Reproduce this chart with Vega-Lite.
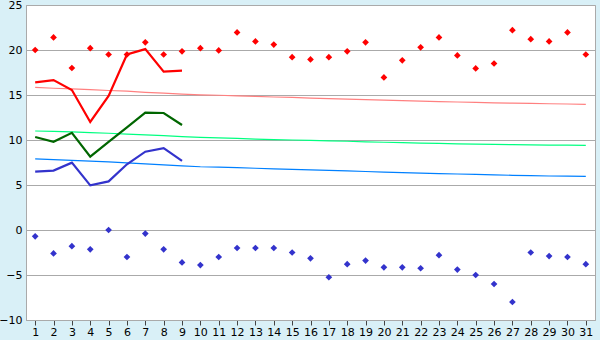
{
  "$schema": "https://vega.github.io/schema/vega-lite/v6.json",
  "autosize": "none",
  "width": 569,
  "height": 315,
  "padding": {"left": 26, "top": 5, "right": 5, "bottom": 20},
  "background": "#d9f0f7",
  "config": {
    "view": {"stroke": "#aaaaaa", "strokeWidth": 1, "fill": "white"},
    "axis": {"labelFont": "DejaVu Sans", "labelFontSize": 11, "labelColor": "#000000", "domainColor": "#aaaaaa", "tickColor": "#444444", "gridColor": "#aaaaaa", "gridOpacity": 1}
  },
  "data": {"values": [
    {"day": 1, "max": 20.0, "min": -0.7, "tmax": 16.4, "tmean": 10.33, "tmin": 6.48, "nmax": 15.85, "nmean": 11.0, "nmin": 7.9},
    {"day": 2, "max": 21.4, "min": -2.6, "tmax": 16.65, "tmean": 9.8, "tmin": 6.6, "nmax": 15.75, "nmean": 10.95, "nmin": 7.82},
    {"day": 3, "max": 18.0, "min": -1.8, "tmax": 15.55, "tmean": 10.8, "tmin": 7.48, "nmax": 15.68, "nmean": 10.9, "nmin": 7.74},
    {"day": 4, "max": 20.2, "min": -2.15, "tmax": 12.0, "tmean": 8.15, "tmin": 4.96, "nmax": 15.6, "nmean": 10.83, "nmin": 7.66},
    {"day": 5, "max": 19.5, "min": 0.0, "tmax": 14.9, "tmean": 9.8, "tmin": 5.4, "nmax": 15.5, "nmean": 10.75, "nmin": 7.56},
    {"day": 6, "max": 19.5, "min": -3.0, "tmax": 19.5, "tmean": 11.4, "tmin": 7.3, "nmax": 15.42, "nmean": 10.66, "nmin": 7.46},
    {"day": 7, "max": 20.85, "min": -0.4, "tmax": 20.1, "tmean": 13.03, "tmin": 8.7, "nmax": 15.3, "nmean": 10.57, "nmin": 7.35},
    {"day": 8, "max": 19.5, "min": -2.15, "tmax": 17.6, "tmean": 13.0, "tmin": 9.1, "nmax": 15.2, "nmean": 10.48, "nmin": 7.24},
    {"day": 9, "max": 19.85, "min": -3.6, "tmax": 17.7, "tmean": 11.67, "tmin": 7.67, "nmax": 15.1, "nmean": 10.38, "nmin": 7.13},
    {"day": 10, "max": 20.2, "min": -3.9, "tmax": null, "tmean": null, "tmin": null, "nmax": 15.02, "nmean": 10.29, "nmin": 7.03},
    {"day": 11, "max": 19.95, "min": -3.0, "tmax": null, "tmean": null, "tmin": null, "nmax": 14.97, "nmean": 10.23, "nmin": 6.98},
    {"day": 12, "max": 21.95, "min": -2.0, "tmax": null, "tmean": null, "tmin": null, "nmax": 14.9, "nmean": 10.17, "nmin": 6.92},
    {"day": 13, "max": 20.95, "min": -2.0, "tmax": null, "tmean": null, "tmin": null, "nmax": 14.84, "nmean": 10.1, "nmin": 6.86},
    {"day": 14, "max": 20.6, "min": -2.0, "tmax": null, "tmean": null, "tmin": null, "nmax": 14.78, "nmean": 10.05, "nmin": 6.8},
    {"day": 15, "max": 19.2, "min": -2.5, "tmax": null, "tmean": null, "tmin": null, "nmax": 14.73, "nmean": 10.0, "nmin": 6.74},
    {"day": 16, "max": 18.95, "min": -3.15, "tmax": null, "tmean": null, "tmin": null, "nmax": 14.66, "nmean": 9.96, "nmin": 6.68},
    {"day": 17, "max": 19.2, "min": -5.25, "tmax": null, "tmean": null, "tmin": null, "nmax": 14.6, "nmean": 9.91, "nmin": 6.62},
    {"day": 18, "max": 19.85, "min": -3.8, "tmax": null, "tmean": null, "tmin": null, "nmax": 14.54, "nmean": 9.86, "nmin": 6.56},
    {"day": 19, "max": 20.85, "min": -3.4, "tmax": null, "tmean": null, "tmin": null, "nmax": 14.48, "nmean": 9.8, "nmin": 6.5},
    {"day": 20, "max": 16.95, "min": -4.15, "tmax": null, "tmean": null, "tmin": null, "nmax": 14.43, "nmean": 9.75, "nmin": 6.44},
    {"day": 21, "max": 18.85, "min": -4.15, "tmax": null, "tmean": null, "tmin": null, "nmax": 14.38, "nmean": 9.7, "nmin": 6.38},
    {"day": 22, "max": 20.3, "min": -4.25, "tmax": null, "tmean": null, "tmin": null, "nmax": 14.32, "nmean": 9.66, "nmin": 6.32},
    {"day": 23, "max": 21.4, "min": -2.8, "tmax": null, "tmean": null, "tmin": null, "nmax": 14.27, "nmean": 9.62, "nmin": 6.27},
    {"day": 24, "max": 19.4, "min": -4.4, "tmax": null, "tmean": null, "tmin": null, "nmax": 14.22, "nmean": 9.58, "nmin": 6.22},
    {"day": 25, "max": 17.95, "min": -5.0, "tmax": null, "tmean": null, "tmin": null, "nmax": 14.18, "nmean": 9.55, "nmin": 6.17},
    {"day": 26, "max": 18.5, "min": -6.0, "tmax": null, "tmean": null, "tmin": null, "nmax": 14.13, "nmean": 9.52, "nmin": 6.12},
    {"day": 27, "max": 22.2, "min": -8.0, "tmax": null, "tmean": null, "tmin": null, "nmax": 14.09, "nmean": 9.49, "nmin": 6.08},
    {"day": 28, "max": 21.2, "min": -2.5, "tmax": null, "tmean": null, "tmin": null, "nmax": 14.06, "nmean": 9.46, "nmin": 6.04},
    {"day": 29, "max": 20.95, "min": -2.9, "tmax": null, "tmean": null, "tmin": null, "nmax": 14.03, "nmean": 9.44, "nmin": 6.0},
    {"day": 30, "max": 21.95, "min": -3.0, "tmax": null, "tmean": null, "tmin": null, "nmax": 14.0, "nmean": 9.42, "nmin": 5.98},
    {"day": 31, "max": 19.5, "min": -3.8, "tmax": null, "tmean": null, "tmin": null, "nmax": 13.96, "nmean": 9.41, "nmin": 5.96}
  ]},
  "encoding": {
    "x": {"field": "day", "type": "quantitative", "scale": {"domain": [0.5, 31.5], "nice": false, "zero": false},
          "axis": {"title": null, "values": [1,2,3,4,5,6,7,8,9,10,11,12,13,14,15,16,17,18,19,20,21,22,23,24,25,26,27,28,29,30,31], "grid": false, "tickSize": 5, "labelPadding": 1, "domainColor": "#aaaaaa", "labelFlush": false, "labelOverlap": false}}
  },
  "layer": [
    {"mark": {"type": "line", "color": "#ff8080", "strokeWidth": 1.2},
     "encoding": {"y": {"field": "nmax", "type": "quantitative", "scale": {"domain": [-10, 25], "nice": false, "zero": false},
                        "axis": {"title": null, "values": [-10,-5,0,5,10,15,20,25], "grid": true, "tickSize": 0, "labelPadding": 4, "domain": true}}}},
    {"mark": {"type": "line", "color": "#00ff80", "strokeWidth": 1.2}, "encoding": {"y": {"field": "nmean", "type": "quantitative"}}},
    {"mark": {"type": "line", "color": "#0080ff", "strokeWidth": 1.2}, "encoding": {"y": {"field": "nmin", "type": "quantitative"}}},
    {"mark": {"type": "line", "color": "#ff0000", "strokeWidth": 2.2}, "encoding": {"y": {"field": "tmax", "type": "quantitative"}}},
    {"mark": {"type": "line", "color": "#006600", "strokeWidth": 2.2}, "encoding": {"y": {"field": "tmean", "type": "quantitative"}}},
    {"mark": {"type": "line", "color": "#3333cc", "strokeWidth": 2.2}, "encoding": {"y": {"field": "tmin", "type": "quantitative"}}},
    {"mark": {"type": "point", "shape": "diamond", "filled": true, "color": "#ff0000", "size": 45, "opacity": 1}, "encoding": {"y": {"field": "max", "type": "quantitative"}}},
    {"mark": {"type": "point", "shape": "diamond", "filled": true, "color": "#3333cc", "size": 45, "opacity": 1}, "encoding": {"y": {"field": "min", "type": "quantitative"}}}
  ]
}
